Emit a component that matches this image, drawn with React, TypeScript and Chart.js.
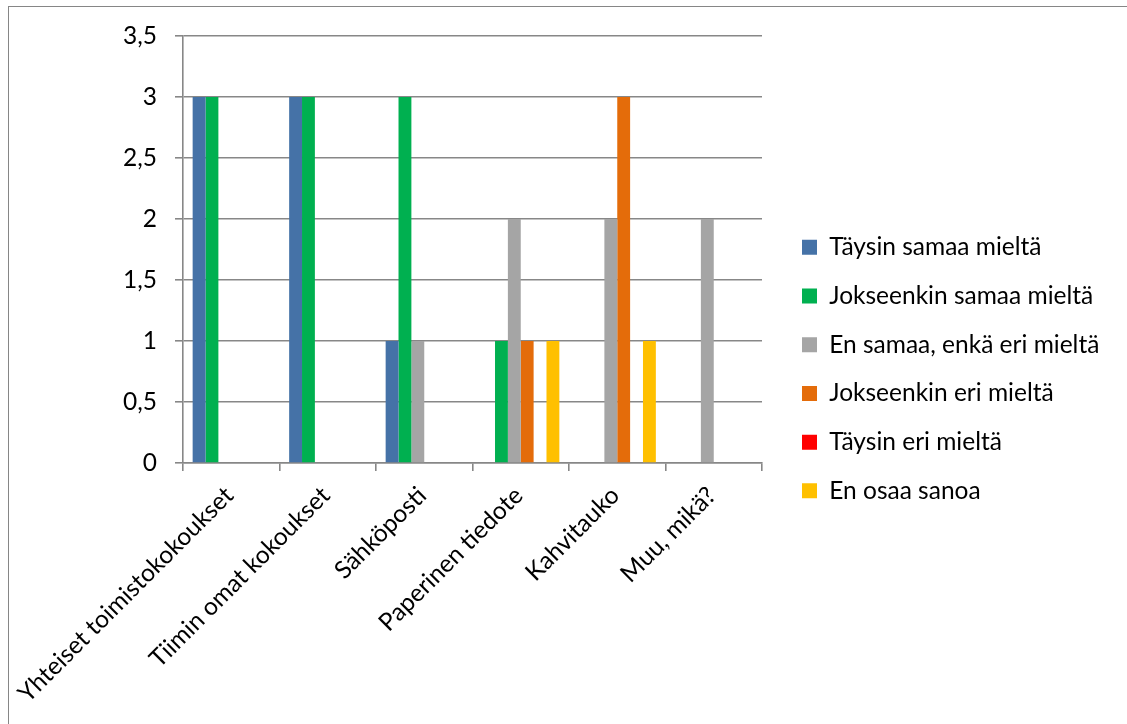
import React, { useEffect, useRef } from 'react';
import { Chart, registerables } from 'chart.js';

Chart.register(...registerables);

const categories = [
  'Yhteiset toimistokokoukset',
  'Tiimin omat kokoukset',
  'Sähköposti',
  'Paperinen tiedote',
  'Kahvitauko',
  'Muu, mikä?',
];

const seriesNames = [
  'Täysin samaa mieltä',
  'Jokseenkin samaa mieltä',
  'En samaa, enkä eri mieltä',
  'Jokseenkin eri mieltä',
  'Täysin eri mieltä',
  'En osaa sanoa',
];

const taysinSamaa = [3, 3, 1, 0, 0, 0];
const jokseenkinSamaa = [3, 3, 3, 1, 0, 0];
const enSamaaEnkaEri = [0, 0, 1, 2, 2, 2];
const jokseenkinEri = [0, 0, 0, 1, 3, 0];
const taysinEri = [0, 0, 0, 0, 0, 0];
const enOsaaSanoa = [0, 0, 0, 1, 1, 0];

const yTickLabels = ['0', '0,5', '1', '1,5', '2', '2,5', '3', '3,5'];

const seriesValues = [taysinSamaa, jokseenkinSamaa, enSamaaEnkaEri, jokseenkinEri, taysinEri, enOsaaSanoa];
const seriesColors = ['#4572A7', '#00B050', '#A5A5A5', '#E46C0A', '#FF0000', '#FFC000'];

const W = 1127;
const H = 724;
const FONT = 'Lato';
const GRID = '#878787';
const FS = 24.5;

export default function App() {
  const ref = useRef<HTMLCanvasElement | null>(null);

  useEffect(() => {
    if (!ref.current) return;
    const padTop = 36;
    const padBottom = 21.8;
    const plotBottom = 463;
    const plotRight = 762;
    const legendItemX = 802;
    const legendPad = 24.2;
    const legendAlloc = 150;

    // moves the legend box so its items start at legendItemX and it is not clipped
    const legendPlacer = {
      id: 'legendPlacer',
      afterLayout(chart: any) {
        const lg = chart.legend;
        if (!lg) return;
        lg.left = legendItemX - legendPad;
        lg.right = W;
        lg.width = lg.right - lg.left;
      },
    };

    const chart = new Chart(ref.current, {
      type: 'bar',
      data: {
        labels: categories,
        datasets: seriesNames.map((name, i) => ({
          label: name,
          data: seriesValues[i],
          backgroundColor: seriesColors[i],
          borderWidth: 0,
          categoryPercentage: 0.8,
          barPercentage: 1.0,
        })),
      },
      options: {
        responsive: false,
        animation: false,
        devicePixelRatio: 1,
        layout: { padding: { left: 0, top: padTop, right: W - plotRight - legendAlloc, bottom: padBottom } },
        plugins: {
          tooltip: { enabled: false },
          legend: {
            position: 'right',
            align: 'center',
            maxWidth: legendAlloc,
            labels: {
              boxWidth: 15,
              boxHeight: 15,
              padding: legendPad,
              color: '#000',
              font: { family: FONT, size: FS },
            },
          },
        },
        scales: {
          x: {
            type: 'category',
            grid: {
              offset: true,
              drawOnChartArea: false,
              drawTicks: true,
              tickLength: 8,
              color: GRID,
              lineWidth: 1.6,
            },
            border: { color: GRID, width: 1.6 },
            ticks: {
              autoSkip: false,
              minRotation: 45,
              maxRotation: 45,
              padding: 10,
              labelOffset: -2,
              color: '#000',
              font: { family: FONT, size: FS },
            },
            afterFit: (s: any) => {
              s.height = H - padBottom - plotBottom;
              s.paddingLeft = 0;
              s.paddingRight = 0;
            },
          },
          y: {
            type: 'linear',
            min: 0,
            max: 3.5,
            grid: { color: GRID, lineWidth: 1.6, tickLength: 8 },
            border: { color: GRID, width: 1.6 },
            ticks: {
              stepSize: 0.5,
              padding: 18,
              color: '#000',
              font: { family: FONT, size: FS },
              callback: (_v: any, i: number) => yTickLabels[i],
            },
            afterFit: (s: any) => {
              s.width = 183;
            },
          },
        },
      } as any,
      plugins: [legendPlacer],
    });
    return () => chart.destroy();
  }, []);

  return (
    <div style={{ position: 'absolute', left: 0, top: 0, width: W, height: H, overflow: 'hidden', background: '#fff' }}>
      <div
        style={{
          position: 'absolute',
          left: 8,
          top: 6,
          width: W - 8,
          height: H - 6,
          borderLeft: '1px solid #868686',
          borderTop: '1px solid #868686',
          boxSizing: 'border-box',
        }}
      />
      <canvas ref={ref} width={W} height={H} style={{ position: 'absolute', left: 0, top: 0, display: 'block' }} />
    </div>
  );
}
